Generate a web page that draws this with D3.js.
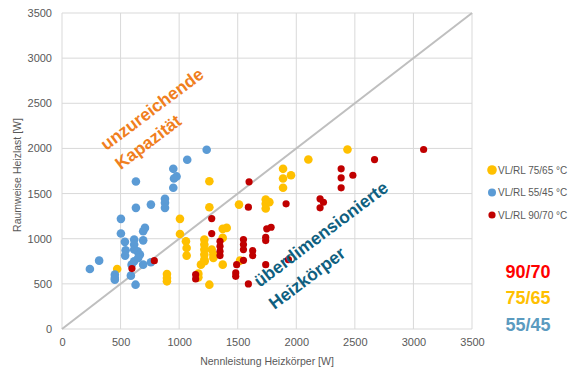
<!DOCTYPE html>
<html><head><meta charset="utf-8">
<script src="https://cdn.jsdelivr.net/npm/d3@7"></script>
<style>body{margin:0;background:#fff}svg{display:block;font-family:"Liberation Sans",Arial,sans-serif}</style>
</head><body>
<script>
const ticks = [0,500,1000,1500,2000,2500,3000,3500];
const seriesNames = ["VL/RL 75/65 °C","VL/RL 55/45 °C","VL/RL 90/70 °C"];
const seriesColors = ["#FFC000","#5B9BD5","#C00000"];
const yellowX = [471,896,896,896,1007,1007,1058,1064,1064,1164,1164,1186,1218,1215,1215,1215,1215,1215,1278,1292,1292,1258,1258,1258,1372,1406,1372,1372,1520,1511,1739,1739,1739,1770,1887,1887,1887,1955,2103,2437];
const yellowY = [665,610,565,528,1220,1053,971,898,813,613,572,713,750,990,935,880,824,768,880,824,787,491,1349,1637,1109,1120,1009,713,757,1378,1434,1386,1334,1405,1774,1667,1564,1703,1877,1988];
const blueX = [238,317,451,451,451,503,503,537,543,539,588,594,616,616,616,616,628,631,631,645,665,650,693,708,693,693,759,759,879,879,879,950,978,956,950,1069,1235];
const blueY = [665,757,602,565,546,1220,1057,965,872,813,591,713,990,935,880,750,491,1342,1634,860,824,787,1082,1120,982,713,740,1378,1442,1397,1342,1774,1690,1667,1564,1874,1985];
const redX = [597,788,1141,1141,1278,1278,1349,1349,1349,1349,1483,1483,1491,1549,1549,1549,1549,1591,1597,1591,1628,1628,1739,1739,1739,1748,1785,1913,1933,2203,2232,2203,2383,2383,2383,2483,2668,3087];
const redY = [669,757,602,554,1223,1057,971,916,860,813,621,583,713,990,935,880,761,1349,1630,499,868,813,713,1016,979,1109,1127,1386,768,1442,1404,1342,1774,1674,1564,1703,1877,1988];
const bigLabels = ["90/70","75/65","55/45"];
const bigColors = ["#FF0000","#FFC000","#5B9BC0"];

const W=575,H=369;
const m={l:62,r:472,t:13,b:329};
const x=d3.scaleLinear().domain([0,3500]).range([m.l,m.r]);
const y=d3.scaleLinear().domain([0,3500]).range([m.b,m.t]);
const svg=d3.select("body").append("svg").attr("width",W).attr("height",H);

// grid
svg.append("g").selectAll("line").data(ticks).join("line")
  .attr("x1",m.l).attr("x2",m.r).attr("y1",d=>y(d)).attr("y2",d=>y(d))
  .attr("stroke","#D9D9D9").attr("stroke-width",1);
svg.append("g").selectAll("line").data(ticks).join("line")
  .attr("y1",m.t).attr("y2",m.b).attr("x1",d=>x(d)).attr("x2",d=>x(d))
  .attr("stroke","#D9D9D9").attr("stroke-width",1);

// axes labels via d3 axes
const fmt=d3.format("d");
const yAxis=svg.append("g").attr("transform",`translate(${m.l},0)`)
  .call(d3.axisLeft(y).tickValues(ticks).tickFormat(fmt).tickSize(0).tickPadding(10));
const xAxis=svg.append("g").attr("transform",`translate(0,${m.b})`)
  .call(d3.axisBottom(x).tickValues(ticks).tickFormat(fmt).tickSize(0).tickPadding(9));
[yAxis,xAxis].forEach(a=>{a.select(".domain").remove();
  a.selectAll("text").attr("fill","#595959").style("font-size","11px").style("font-family","'Liberation Sans',Arial,sans-serif");});

// diagonal
svg.append("line").attr("x1",x(0)).attr("y1",y(0)).attr("x2",x(3500)).attr("y2",y(3500))
  .attr("stroke","#BFBFBF").attr("stroke-width",2);

// points
const series=[
  {xs:yellowX,ys:yellowY,r:4.3},
  {xs:blueX,ys:blueY,r:4.3},
  {xs:redX,ys:redY,r:3.6}
];
series.forEach((s,i)=>{
  svg.append("g").selectAll("circle").data(s.xs.map((v,j)=>[v,s.ys[j]])).join("circle")
    .attr("cx",d=>x(d[0])).attr("cy",d=>y(d[1])).attr("r",s.r).attr("fill",seriesColors[i]);
});

// axis titles
svg.append("text").attr("x",(m.l+m.r)/2).attr("y",365).attr("text-anchor","middle")
  .attr("fill","#595959").style("font-size","10.5px").text("Nennleistung Heizkörper [W]");
svg.append("text").attr("transform","translate(21,175) rotate(-90)").attr("text-anchor","middle")
  .attr("fill","#595959").style("font-size","10.5px").text("Raumweise Heizlast [W]");

// legend
const lg=svg.append("g");
seriesNames.forEach((n,i)=>{
  const ly=170+i*22.5;
  lg.append("circle").attr("cx",492).attr("cy",ly).attr("r",i===0?4.8:(i===1?4:3.6)).attr("fill",seriesColors[i]);
  lg.append("text").attr("x",498).attr("y",ly).attr("dy","0.35em").attr("fill","#595959")
    .style("font-size","10px").text(n);
});

// big labels
bigLabels.forEach((t,i)=>{
  svg.append("text").attr("x",528).attr("y",277.5+i*26.5).attr("text-anchor","middle")
    .attr("fill",bigColors[i]).style("font-size","18px").style("font-weight","bold").text(t);
});

// annotations
const ann=[
  {t:"unzureichende",cx:152,cy:109,c:"#F07F1E"},
  {t:"Kapazität",cx:148,cy:142,c:"#F07F1E"},
  {t:"überdimensionierte",cx:321,cy:234,c:"#0F5F80"},
  {t:"Heizkörper",cx:307,cy:278,c:"#0F5F80"}
];
ann.forEach(a=>{
  svg.append("text").attr("transform",`translate(${a.cx},${a.cy}) rotate(-37)`)
    .attr("text-anchor","middle").attr("dy","0.35em").attr("fill",a.c)
    .style("font-size","17.5px").style("font-weight","bold").text(a.t);
});
</script>
</body></html>
